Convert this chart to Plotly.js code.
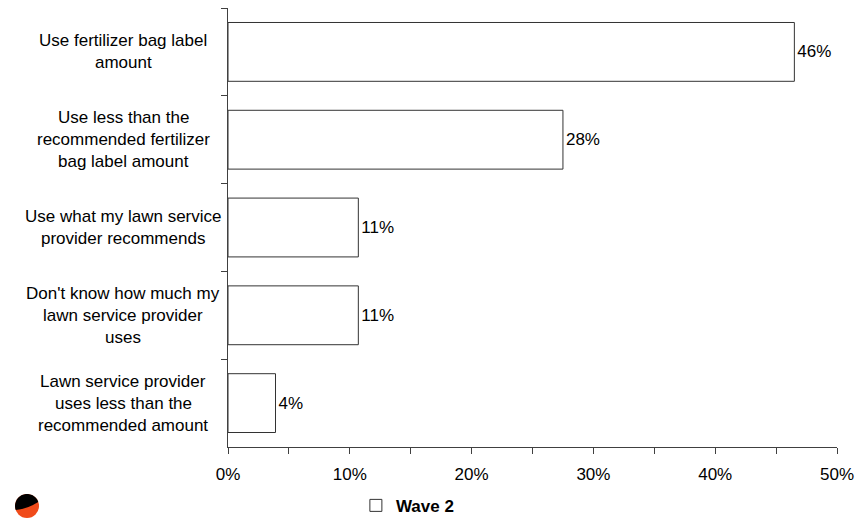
<!DOCTYPE html>
<html>
<head>
<meta charset="utf-8">
<script src="https://cdn.plot.ly/plotly-3.0.1.min.js"></script>
<style>html,body{margin:0;padding:0;background:#fff;}#chart{width:856px;height:519px;}</style>
</head>
<body>
<div id="chart"></div>
<script>
// ---- data ----
var categories = [
  "Use fertilizer bag label<br>amount",
  "Use less than the<br>recommended fertilizer<br>bag label amount",
  "Use what my lawn service<br>provider recommends",
  "Don't know how much my<br>lawn service provider<br>uses",
  "Lawn service provider<br>uses less than the<br>recommended amount"
];
var wave2Values = [46.5, 27.5, 10.7, 10.7, 3.9];
var wave2Labels = ["46%", "28%", "11%", "11%", "4%"];
var seriesName = "Wave 2";
var xTickVals = [0, 5, 10, 15, 20, 25, 30, 35, 40, 45, 50];
var xTickText = ["0%", "", "10%", "", "20%", "", "30%", "", "40%", "", "50%"];

// ---- styles ----
var FONT = "Arial, 'Liberation Sans', sans-serif";
var FS = 17;
var AXIS_COLOR = "#404040";

var trace = {
  type: "bar",
  orientation: "h",
  name: seriesName,
  y: categories,
  x: wave2Values,
  text: wave2Labels,
  textposition: "outside",
  textfont: {family: FONT, size: FS, color: "#000"},
  cliponaxis: false,
  width: 0.67,
  marker: {color: "#ffffff", line: {color: "#333333", width: 1}},
  hoverinfo: "skip",
  showlegend: true
};

// category labels as centred multi-line annotations
var annotations = [];
var LINE_H = 22;
categories.forEach(function (c) {
  var lines = c.split("<br>");
  var n = lines.length;
  lines.forEach(function (ln, i) {
    annotations.push({
      xref: "paper", yref: "y", x: -0.172, y: c,
      xanchor: "center", yanchor: "middle",
      text: ln, showarrow: false,
      yshift: ((n - 1) / 2 - i) * LINE_H,
      font: {family: FONT, size: FS, color: "#000"}
    });
  });
});

// logo (decorative)
var shapes = [];
var cx = 27 - 228, cy = -(506 - 447), r = 12;
shapes.push({type: "circle", xref: "paper", yref: "paper", xsizemode: "pixel", ysizemode: "pixel",
  xanchor: 0, yanchor: 0, x0: cx - r, x1: cx + r, y0: cy - r, y1: cy + r,
  fillcolor: "#f04b1a", line: {width: 0}, layer: "above"});
var pts = [];
for (var a = 20; a <= 200; a += 5) {
  var t = a * Math.PI / 180;
  pts.push((cx + r * Math.cos(t)).toFixed(2) + "," + (cy + r * Math.sin(t)).toFixed(2));
}
shapes.push({type: "path", xref: "paper", yref: "paper", xsizemode: "pixel", ysizemode: "pixel",
  xanchor: 0, yanchor: 0, path: "M" + pts.join("L") + "Q" + (cx) + "," + (cy - 3) + " " + pts[0] + "Z",
  fillcolor: "#000000", line: {width: 0}, layer: "above"});

var layout = {
  width: 856, height: 519,
  margin: {l: 228, r: 19, t: 8, b: 72, pad: 0, autoexpand: false},
  paper_bgcolor: "#ffffff", plot_bgcolor: "#ffffff",
  font: {family: FONT, size: FS, color: "#000"},
  showlegend: true,
  legend: {orientation: "h", x: 0.21, xanchor: "left", y: -0.134, yanchor: "middle",
    font: {family: FONT, size: FS, color: "#000", weight: "bold"}, bgcolor: "rgba(0,0,0,0)"},
  xaxis: {
    range: [0, 50], tickmode: "array", tickvals: xTickVals, ticktext: xTickText,
    showline: true, linecolor: AXIS_COLOR, linewidth: 1,
    ticks: "outside", ticklen: 6, tickcolor: AXIS_COLOR, tickwidth: 1,
    ticklabelstandoff: 6,
    showgrid: false, zeroline: false, fixedrange: true,
    tickfont: {family: FONT, size: FS, color: "#000"}
  },
  xaxis2: {
    overlaying: "x", anchor: "y", side: "bottom", range: [0, 50],
    tickmode: "array", tickvals: xTickVals, showticklabels: false,
    ticks: "inside", ticklen: 4, tickcolor: AXIS_COLOR, tickwidth: 1,
    showline: false, showgrid: false, zeroline: false, fixedrange: true
  },
  yaxis: {
    type: "category", autorange: "reversed", tickson: "boundaries",
    showticklabels: false, ticks: "outside", ticklen: 6, tickcolor: AXIS_COLOR,
    showline: true, linecolor: AXIS_COLOR, linewidth: 1,
    showgrid: false, zeroline: false, fixedrange: true
  },
  annotations: annotations,
  shapes: shapes
};

Plotly.newPlot("chart", [trace], layout, {staticPlot: true, displayModeBar: false});
</script>
</body>
</html>
